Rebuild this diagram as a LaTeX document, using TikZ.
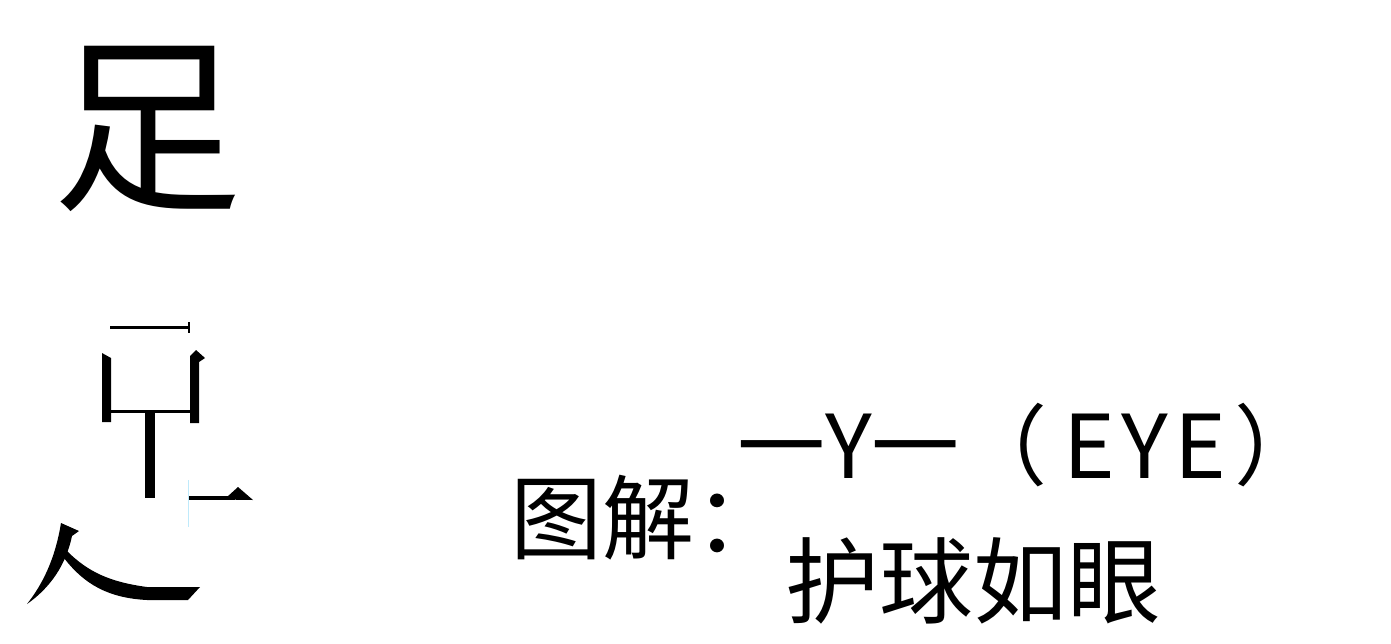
\documentclass[tikz,border=0pt]{standalone}
\usepackage{fontspec}
\newfontfamily\cjk{Noto Sans CJK SC}
\tikzset{
  cjktext/.style={inner sep=0pt, outer sep=0pt, font=\cjk, text=black},
  strokefill/.style={fill=black, draw=none}
}
\begin{document}
\begin{tikzpicture}[x=1pt,y=-1pt]
\useasboundingbox[fill=white] (0,0) rectangle (1391,643);
% big character
\node[cjktext, font=\cjk\fontsize{190pt}{190pt}\selectfont] (zu) at (147,129) {足};
% decomposed strokes
% top horizontal with tick
\fill[strokefill] (110,325.5) rectangle (189,328.5);
\fill[strokefill] (187.5,322) rectangle (189.8,333);
% left vertical
\fill[strokefill] (102,353) -- (111,358) -- (111,422) -- (102,422) -- cycle;
% right vertical with flag
\fill[strokefill] (190,356) -- (196,350) -- (205,358) -- (199,362) -- (199,423) -- (190,423) -- cycle;
% middle horizontal
\fill[strokefill] (111,410.2) rectangle (190,413.4);
% T vertical
\fill[strokefill] (145,413) rectangle (155,498);
% small horizontal with end
\fill[strokefill] (188,496.2) rectangle (235,499.6);
\fill[strokefill] (227,497) -- (238,487) -- (253,500) -- (227,499.6) -- cycle;
% faint cyan trace
\draw[cyan!25, line width=0.8pt] (188,480) -- (188,527);
% ren: left-falling stroke
\fill[strokefill] (61,523) -- (79,531) -- (72,536)
  .. controls (66,565) and (50,588) .. (27,604)
  .. controls (42,585) and (55,560) .. (61,523) -- cycle;
% ren: right stroke merging into bottom
\fill[strokefill] (67,551)
  .. controls (88,572) and (110,582) .. (147,587)
  -- (185,587) -- (200,587) -- (188,600) -- (147,600)
  .. controls (108,598) and (84,584) .. (64,558) -- cycle;
% labels
\node[cjktext, anchor=west, font=\cjk\fontsize{92pt}{92pt}\selectfont] (tujie) at (510,518) {图解：};
\node[cjktext, anchor=west, font=\cjk\fontsize{88pt}{88pt}\selectfont] (eye) at (737,445) {一Y一（\hspace{16pt}E\hspace{6pt}Y\hspace{6pt}E\hspace{8pt}）};
\node[cjktext, anchor=west, font=\cjk\fontsize{94pt}{94pt}\selectfont] (huqiu) at (785,581) {护球如眼};
\end{tikzpicture}
\end{document}
